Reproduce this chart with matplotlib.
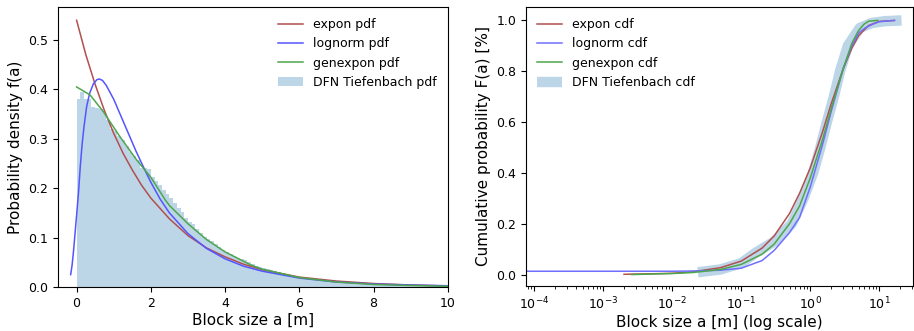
import matplotlib.pyplot as plt
import numpy as np

# --- histogram of the DFN block sizes (bin width 0.1 m)
bin_width = 0.1
hist_heights = [
    0.380, 0.395, 0.380, 0.380, 0.365, 0.362, 0.360, 0.352, 0.338, 0.320,
    0.315, 0.305, 0.297, 0.285, 0.274, 0.265, 0.257, 0.240, 0.240, 0.238,
    0.222, 0.215, 0.206, 0.196, 0.189, 0.180, 0.170, 0.160, 0.152, 0.140,
    0.132, 0.128, 0.118, 0.110, 0.101, 0.097, 0.093, 0.087, 0.080, 0.075,
    0.070, 0.066, 0.062, 0.058, 0.056, 0.054, 0.050, 0.046, 0.043, 0.040,
    0.038, 0.036, 0.034, 0.032, 0.030, 0.028, 0.026, 0.025, 0.023, 0.022,
    0.020, 0.019, 0.018, 0.017, 0.016, 0.015, 0.014, 0.013, 0.012, 0.011,
    0.011, 0.010, 0.009, 0.009, 0.008, 0.008, 0.007, 0.007, 0.006, 0.006,
    0.006, 0.005, 0.005, 0.005, 0.004, 0.004, 0.004, 0.004, 0.003, 0.003,
    0.003, 0.003, 0.003, 0.003, 0.003, 0.002, 0.002, 0.002, 0.002, 0.002,
]

# --- fitted pdfs
expon_pdf_x = [0, 0.25, 0.5, 0.75, 1.0, 1.25, 1.5, 1.75, 2.0, 2.5, 3.0, 3.5,
               4.0, 4.5, 5.0, 6.0, 7.0, 8.0, 9.0, 10.0]
expon_pdf_y = [0.540, 0.470, 0.410, 0.357, 0.311, 0.271, 0.237, 0.206, 0.180,
               0.138, 0.104, 0.079, 0.061, 0.046, 0.035, 0.020, 0.012, 0.007,
               0.004, 0.002]

lognorm_pdf_x = [-0.16, -0.12, -0.08, -0.04, 0.0, 0.05, 0.1, 0.15, 0.2, 0.27,
                 0.35, 0.45, 0.55, 0.62, 0.7, 0.8, 0.9, 1.0, 1.2, 1.4, 1.6,
                 1.8, 2.0, 2.25, 2.5, 3.0, 3.5, 4.0, 4.5, 5.0, 6.0, 7.0, 8.0,
                 9.0, 10.0]
lognorm_pdf_y = [0.025, 0.045, 0.075, 0.110, 0.145, 0.190, 0.245, 0.290, 0.325,
                 0.365, 0.392, 0.411, 0.420, 0.421, 0.418, 0.408, 0.394, 0.380,
                 0.345, 0.310, 0.275, 0.243, 0.212, 0.178, 0.150, 0.108, 0.078,
                 0.057, 0.042, 0.032, 0.018, 0.010, 0.006, 0.004, 0.0025]

genexpon_pdf_x = [0, 0.36, 0.72, 1.17, 1.62, 2.0, 2.39, 2.5, 3.0, 3.5, 4.0,
                  4.68, 5.0, 6.0, 7.0, 8.0, 9.0, 10.0]
genexpon_pdf_y = [0.405, 0.389, 0.355, 0.304, 0.257, 0.222, 0.176, 0.165,
                  0.128, 0.096, 0.071, 0.045, 0.036, 0.019, 0.010, 0.005,
                  0.003, 0.0015]

# --- cdfs (x in m, log axis)
expon_cdf_x = [0.002, 0.005, 0.01, 0.02, 0.05, 0.1, 0.2, 0.3, 0.5, 0.7, 1.0,
               1.5, 2.0, 3.0, 4.0, 5.0, 7.0, 10.0, 16.6]
expon_cdf_y = [0.001, 0.003, 0.005, 0.011, 0.027, 0.053, 0.104, 0.152, 0.240,
               0.320, 0.420, 0.560, 0.670, 0.810, 0.890, 0.940, 0.980, 0.996,
               1.000]

lognorm_cdf_x = [1e-6, 0.01, 0.02, 0.05, 0.1, 0.2, 0.3, 0.5, 0.7, 1.0, 1.5,
                 2.0, 3.0, 4.0, 5.0, 6.2, 8.0, 10.0, 16.6]
lognorm_cdf_y = [0.013, 0.013, 0.014, 0.017, 0.025, 0.055, 0.095, 0.165, 0.225,
                 0.345, 0.510, 0.640, 0.810, 0.900, 0.950, 0.970, 0.985, 0.995,
                 1.000]

genexpon_cdf_x = [0.0026, 0.005, 0.01, 0.02, 0.05, 0.1, 0.2, 0.3, 0.5, 0.7,
                  1.0, 1.5, 2.0, 3.0, 4.0, 5.0, 6.0, 7.0, 9.5]
genexpon_cdf_y = [0.0, 0.002, 0.004, 0.008, 0.020, 0.040, 0.080, 0.120, 0.200,
                  0.270, 0.380, 0.530, 0.650, 0.810, 0.910, 0.960, 0.985,
                  0.997, 1.000]

dfn_cdf_x = [0.0235, 0.05, 0.1, 0.16, 0.3, 0.54, 0.8, 1.1, 1.4, 1.74, 2.2,
             2.7, 3.5, 5.2, 7.8, 12.0, 21.0]
dfn_cdf_y = [0.009, 0.020, 0.045, 0.085, 0.130, 0.200, 0.300, 0.400, 0.500,
             0.600, 0.700, 0.800, 0.900, 0.970, 0.990, 0.997, 1.000]

RED = "#b24f4f"
BLUE = "#5555ff"
GREEN = "#4da64d"
HIST = "#bcd6e8"

fig = plt.figure(figsize=(9.14, 3.31), dpi=100)
ax1 = fig.add_axes([0.0635, 0.133, 0.4265, 0.846])
ax2 = fig.add_axes([0.5755, 0.136, 0.4235, 0.843])

# pdf panel
ax1.plot(expon_pdf_x, expon_pdf_y, color=RED, lw=1.1, label="expon pdf")
ax1.plot(lognorm_pdf_x, lognorm_pdf_y, color=BLUE, lw=1.1, label="lognorm pdf")
ax1.plot(genexpon_pdf_x, genexpon_pdf_y, color=GREEN, lw=1.1, label="genexpon pdf")
bin_left = np.arange(len(hist_heights)) * bin_width
ax1.bar(bin_left, hist_heights, width=bin_width, align="edge", color=HIST,
        linewidth=0, label="DFN Tiefenbach pdf", zorder=0)
ax1.set_xlim(-0.5, 10)
ax1.set_ylim(0, 0.567)
ax1.set_xlabel("Block size a [m]", fontsize=11, labelpad=2)
ax1.set_ylabel("Probability density f(a)", fontsize=11)
ax1.legend(loc="upper right", frameon=False, fontsize=9)

# cdf panel
ax2.plot(expon_cdf_x, expon_cdf_y, color=RED, lw=1.1, label="expon cdf")
ax2.plot(lognorm_cdf_x, lognorm_cdf_y, color="#6f6fff", lw=1.1, label="lognorm cdf")
ax2.plot(genexpon_cdf_x, genexpon_cdf_y, color=GREEN, lw=1.1, label="genexpon cdf")
ax2.plot(dfn_cdf_x, dfn_cdf_y, color=HIST, lw=7.5, solid_capstyle="butt",
         label="DFN Tiefenbach cdf", zorder=0)
ax2.set_xscale("log")
ax2.set_xlim(10 ** -4.12, 10 ** 1.49)
ax2.set_ylim(-0.045, 1.053)
ax2.set_xlabel("Block size a [m] (log scale)", fontsize=11, labelpad=2)
ax2.set_ylabel("Cumulative probability F(a) [%]", fontsize=11)
ax2.legend(loc="upper left", frameon=False, fontsize=9)

for ax in (ax1, ax2):
    ax.tick_params(labelsize=9)

fig.savefig("out.png")
